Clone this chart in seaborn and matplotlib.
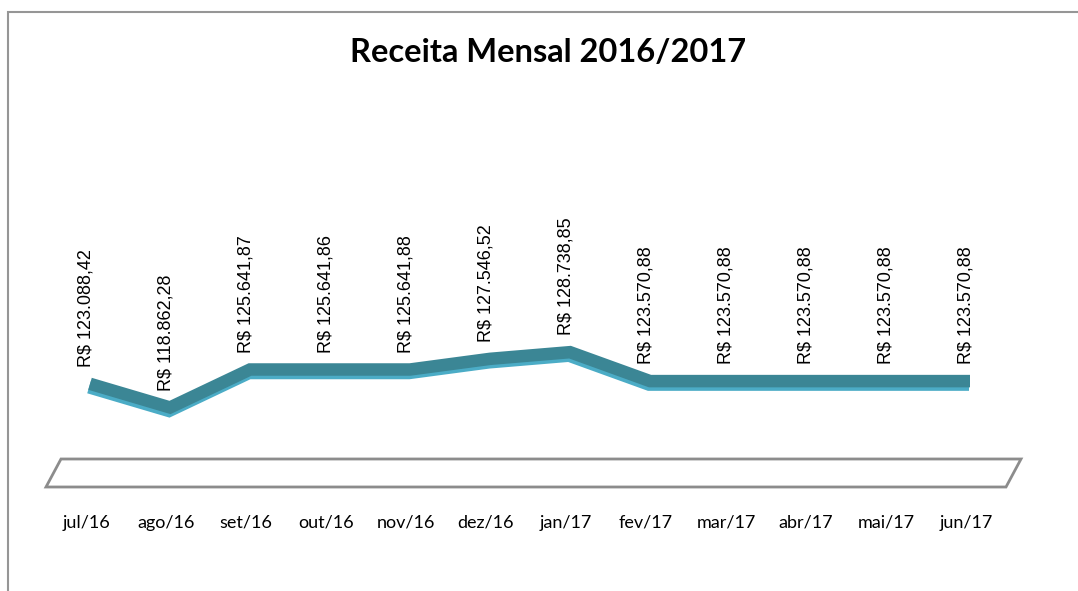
import matplotlib
matplotlib.use("Agg")
import matplotlib.pyplot as plt
import matplotlib.transforms as mtransforms
from matplotlib.patches import Polygon, Rectangle
import seaborn as sns
import pandas as pd

# monthly revenue values
months = ["jul/16", "ago/16", "set/16", "out/16", "nov/16", "dez/16",
          "jan/17", "fev/17", "mar/17", "abr/17", "mai/17", "jun/17"]
receita = [123088.42, 118862.28, 125641.87, 125641.86, 125641.88, 127546.52,
           128738.85, 123570.88, 123570.88, 123570.88, 123570.88, 123570.88]

df = pd.DataFrame({"pos": range(len(months)), "mes": months, "receita": receita})


def brl(v):
    s = f"{v:,.2f}".replace(",", "X").replace(".", ",").replace("X", ".")
    return "R$ " + s


sns.set_theme(style="white")
plt.rcParams["font.family"] = ["Lato", "DejaVu Sans"]
plt.rcParams["text.color"] = "black"

fig = plt.figure(figsize=(10.78, 5.91), dpi=100)
ax = fig.add_axes([46 / 1078, 1 - 487 / 591, 960 / 1078, 387 / 591])

# light front edge of the ribbon, then darker top face
sns.lineplot(data=df, x="pos", y="receita", ax=ax, color="#4BACC6", linewidth=9,
             solid_capstyle="butt", solid_joinstyle="miter")
sns.lineplot(data=df, x="pos", y="receita", ax=ax, color="#3B8695", linewidth=9,
             solid_capstyle="butt", solid_joinstyle="miter")
front = mtransforms.ScaledTranslation(3 / 100, -3.5 / 100, fig.dpi_scale_trans)
top = mtransforms.ScaledTranslation(4 / 100, 0, fig.dpi_scale_trans)
ax.lines[0].set_transform(ax.transData + front)
ax.lines[1].set_transform(ax.transData + top)

ax.set_xlim(-0.5, 11.5)
ax.set_ylim(104660, 173767)

# data labels
for x, v in zip(df["pos"], df["receita"]):
    ax.annotate(brl(v), (x, v), xytext=(0, 12), textcoords="offset points",
                rotation=90, ha="center", va="bottom", fontsize=13,
                family=["Liberation Sans", "DejaVu Sans"], color="black")

# floor of the 3d chart
floor = Polygon([(0, 0), (1, 0), (1 + 15 / 960, 28 / 387), (15 / 960, 28 / 387)],
                closed=True, transform=ax.transAxes, facecolor="white",
                edgecolor="#8C8C8C", linewidth=2, clip_on=False, zorder=0)
ax.add_patch(floor)

ax.set_xticks(df["pos"])
ax.set_xticklabels(months, fontsize=13, color="black")
ax.set_yticks([])
ax.tick_params(axis="x", length=0, pad=20)
ax.set_xlabel("")
ax.set_ylabel("")
for sp in ax.spines.values():
    sp.set_visible(False)
ax.patch.set_alpha(0)

fig.text(0.508, 0.912, "Receita Mensal 2016/2017", ha="center", va="center",
         fontsize=23.5, fontweight="bold", color="black")

# chart area border (partly cropped)
fig.patches.append(Rectangle((8 / 1078, -0.1), 1.2, 1.1 - 12 / 591,
                             transform=fig.transFigure, fill=False,
                             edgecolor="#969696", linewidth=1.5))

fig.savefig("out.png", dpi=100)
